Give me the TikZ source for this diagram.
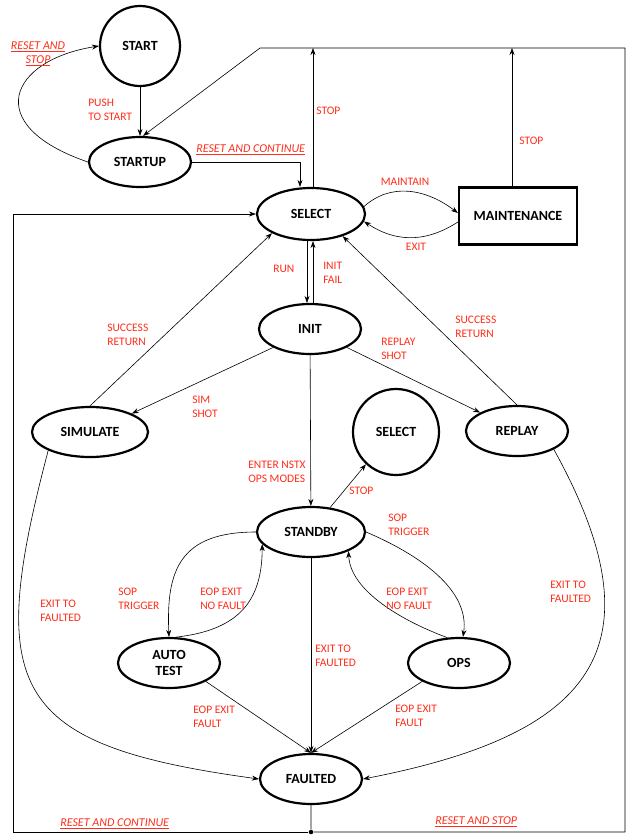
\documentclass[tikz,border=0pt]{standalone}
\usepackage{fontspec}
\setmainfont{Carlito}
\usepackage{xcolor}
\usetikzlibrary{shapes,arrows,arrows.meta,positioning}
\definecolor{lblred}{RGB}{255,45,25}

\begin{document}
\begin{tikzpicture}[x=1pt,y=-1pt,->,>={Stealth[length=7pt,width=5pt]},line width=0.6pt,
    state/.style={ellipse,draw,line width=2.2pt,minimum width=102pt,minimum height=50pt,
        inner sep=0pt,align=center,font=\fontsize{14}{16}\selectfont\bfseries},
    circ/.style={state,circle,minimum size=80pt},
    box/.style={state,rectangle,minimum width=118pt,minimum height=57pt},
    dot/.style={circle,fill,inner sep=1.6pt},
    lbl/.style={anchor=west,align=left,inner sep=0pt,text=lblred,
        font=\fontsize{11.5}{14.5}\selectfont},
    ulbl/.style={lbl,font=\fontsize{12}{14}\selectfont\itshape}]
    \useasboundingbox (0,0) rectangle (628,836);
    % states
    \node[circ] (start) at (140,46) {START};
    \node[state] (startup) at (140,162) {STARTUP};
    \node[state,minimum width=108pt,minimum height=52pt] (select) at (311,214) {SELECT};
    \node[box] (maint) at (518,216) {MAINTENANCE};
    \node[state] (init) at (310,329) {INIT};
    \node[state,minimum width=116pt] (sim) at (90,432) {SIMULATE};
    \node[state] (replay) at (517,431) {REPLAY};
    \node[circ,minimum size=86pt] (selc) at (396,432) {SELECT};
    \node[state,minimum width=108pt] (standby) at (311,532) {STANDBY};
    \node[state] (autotest) at (169,663) {AUTO\\TEST};
    \node[state] (ops) at (459,663) {OPS};
    \node[state] (faulted) at (311,779) {FAULTED};
    % frame corners
    \coordinate (tl) at (260,48);
    \coordinate (tr) at (625,48);
    \coordinate (br) at (625,832);
    \coordinate (bl) at (13,832);
    \coordinate (ml) at (13,214);
    \node[dot] (bm) at (311,832) {};

    \draw (start) -- (startup);
    \draw (startup.west) .. controls (-20,125) and (10,60) .. (start.west);
    \draw (startup.east) -| ([xshift=-11pt]select.north);
    \draw ([xshift=2pt]select.north) -- ([xshift=2pt]select.north |- tl);
    \draw ([xshift=-6pt]maint.north) -- ([xshift=-6pt]maint.north |- tl);
    \draw (faulted) -- (bm) -- (br) -- (tr) -- (tl) -- ([xshift=3pt]startup.north);
    \draw (bm) -- (bl) -- (ml) -- (select.west);
    \draw (select.8) .. controls (390,183) and (425,188) .. ([yshift=3pt]maint.west);
    \draw ([yshift=-6pt]maint.west) .. controls (430,240) and (400,245) .. (select.-8);
    \draw ([xshift=-4pt]select.south) -- ([xshift=-3pt]init.north);
    \draw ([xshift=3pt]init.north) -- ([xshift=2pt]select.south);
    \draw (init.south west) -- (sim.north east);
    \draw (sim.north) -- (select.south west);
    \draw (init.south east) -- (replay.north west);
    \draw (replay.north) -- (select.-35);
    \draw (init) -- (standby);
    \draw (standby.52) -- (selc.227);
    \draw (standby.west) .. controls (180,532) and (166,570) .. (autotest.north);
    \draw (autotest.75) .. controls (240,630) and (262,600) .. (standby.194);
    \draw (standby.east) .. controls (420,555) and (470,590) .. ([xshift=4pt]ops.north);
    \draw (ops.115) .. controls (400,620) and (350,590) .. (standby.-27);
    \draw (standby) -- (faulted);
    \draw (autotest.south east) -- (faulted.north);
    \draw (ops.south west) -- (faulted.north);
    \draw (sim.south west) .. controls (-15,690) and (10,745) .. (faulted.west);
    \draw (replay.south east) .. controls (665,650) and (590,735) .. (faulted.east);

    % transition labels
    \node[ulbl,anchor=center,align=center] (lrs) at (38,54) {\underline{RESET AND}\\\underline{STOP}};
    \node[lbl] (lpush) at (88,110) {PUSH\\TO START};
    \node[ulbl] (lrc) at (196,150) {\underline{RESET AND CONTINUE}};
    \node[lbl] (lstop) at (316,111) {STOP};
    \node[lbl] (lstopm) at (519,141) {STOP};
    \node[lbl,anchor=center] (lmaint) at (405,182) {MAINTAIN};
    \node[lbl,anchor=center] (lexit) at (416,247) {EXIT};
    \node[lbl] (lrun) at (273,269) {RUN};
    \node[lbl] (lfail) at (323,273) {INIT\\FAIL};
    \node[lbl] (lsuca) at (107,335) {SUCCESS\\RETURN};
    \node[lbl] (lsucb) at (455,327) {SUCCESS\\RETURN};
    \node[lbl] (lrep) at (381,349) {REPLAY\\SHOT};
    \node[lbl] (lsim) at (192,407) {SIM\\SHOT};
    \node[lbl] (lenter) at (248,472) {ENTER NSTX\\OPS MODES};
    \node[lbl] (lstops) at (349,491) {STOP};
    \node[lbl] (lsopb) at (388,525) {SOP\\TRIGGER};
    \node[lbl] (lsopa) at (118,599) {SOP\\TRIGGER};
    \node[lbl] (lnfa) at (200,599) {EOP EXIT\\NO FAULT};
    \node[lbl] (lnfb) at (386,599) {EOP EXIT\\NO FAULT};
    \node[lbl] (lexa) at (40,611) {EXIT TO\\FAULTED};
    \node[lbl] (lexb) at (315,656) {EXIT TO\\FAULTED};
    \node[lbl] (lexc) at (550,592) {EXIT TO\\FAULTED};
    \node[lbl] (lfa) at (193,717) {EOP EXIT\\FAULT};
    \node[lbl] (lfb) at (395,716) {EOP EXIT\\FAULT};
    \node[ulbl] (lrcb) at (60,824) {\underline{RESET AND CONTINUE}};
    \node[ulbl] (lrsb) at (435,822) {\underline{RESET AND STOP}};
\end{tikzpicture}
\end{document}
